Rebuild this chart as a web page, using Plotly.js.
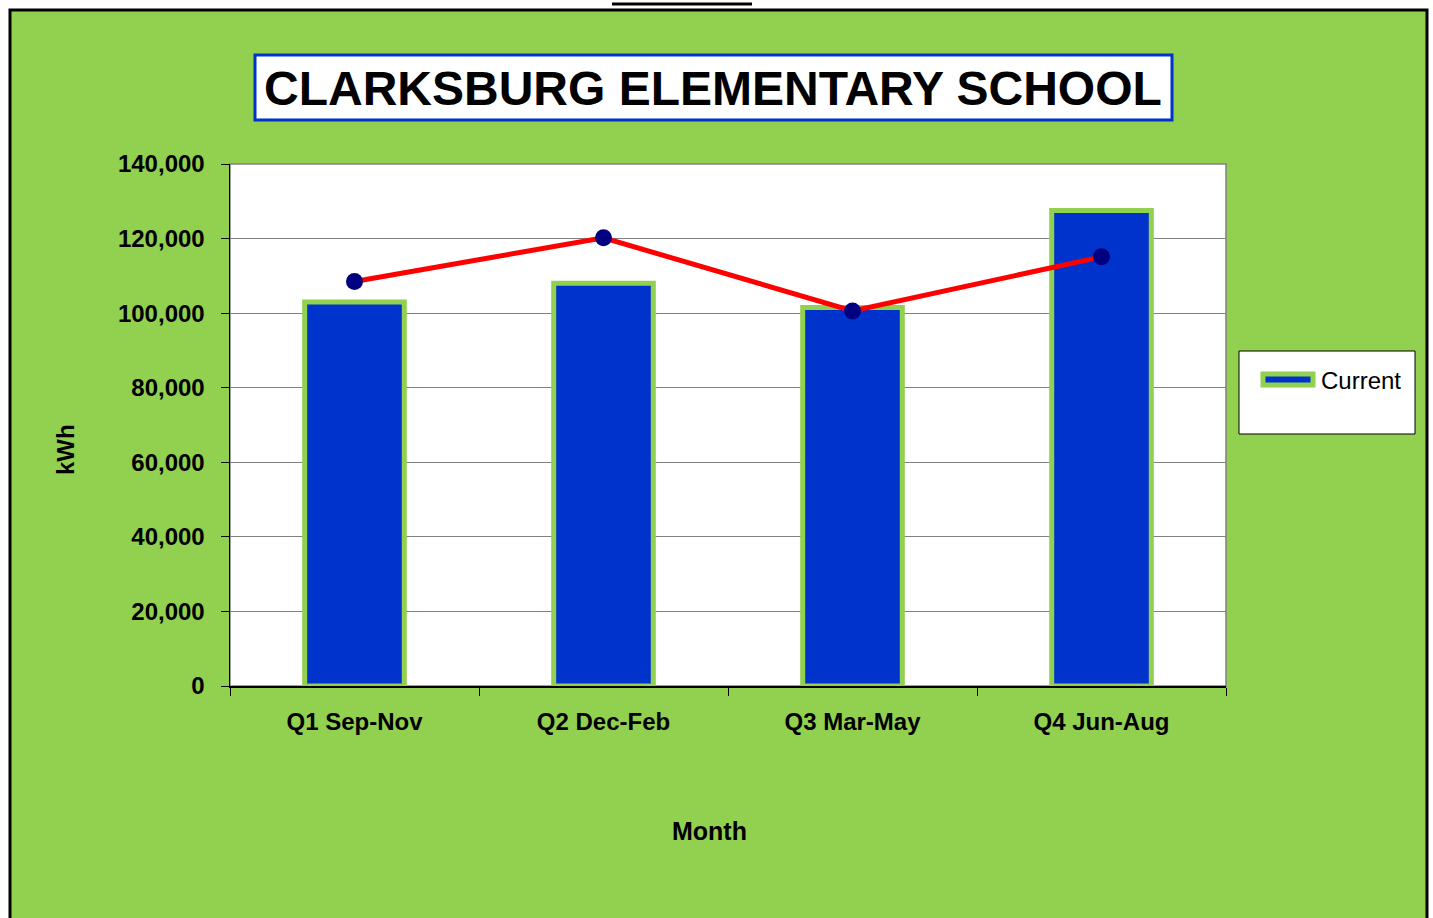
<!DOCTYPE html>
<html>
<head>
<meta charset="utf-8">
<script src="https://cdn.plot.ly/plotly-3.0.1.min.js"></script>
<style>
html,body{margin:0;padding:0;background:#ffffff;}
#chart{width:1433px;height:918px;}
</style>
</head>
<body>
<div id="chart"></div>
<script>
// ---- data ----
const categories = ["Q1 Sep-Nov", "Q2 Dec-Feb", "Q3 Mar-May", "Q4 Jun-Aug"];
const currentKWh = [103000, 108000, 101500, 127500];
const previousKWh = [108500, 120200, 100600, 115100];
const chartTitle = "CLARKSBURG ELEMENTARY SCHOOL";
const yTitle = "kWh";
const xTitle = "Month";
const legendLabel = "Current";

// ---- styles ----
const GREEN = "#92D050";
const BLUE = "#0033CC";
const NAVY = "#000080";
const RED = "#FF0000";
const arial = "'Liberation Sans', Arial, sans-serif";

// plot area in pixels: x 230..1226, y 164..686
const PX0 = 230, PX1 = 1226, PY0 = 164, PY1 = 686;
const px = v => (v - PX0) / (PX1 - PX0);
const py = v => (PY1 - v) / (PY1 - PY0);

const traces = [
  {
    type: "bar",
    x: categories,
    y: currentKWh,
    name: legendLabel,
    marker: {color: BLUE, line: {color: GREEN, width: 5}},
    showlegend: false,
    hoverinfo: "skip"
  },
  {
    type: "scatter",
    mode: "lines+markers",
    x: categories,
    y: previousKWh,
    name: "Previous",
    line: {color: RED, width: 5},
    marker: {color: NAVY, size: 17},
    showlegend: false,
    hoverinfo: "skip"
  }
];

const layout = {
  width: 1433,
  height: 918,
  margin: {l: PX0, r: 1433 - PX1, t: PY0, b: 918 - PY1, pad: 0},
  paper_bgcolor: "#ffffff",
  plot_bgcolor: "#ffffff",
  bargap: 0.6,
  showlegend: false,
  xaxis: {
    type: "category",
    showgrid: false,
    showline: true,
    linecolor: "#000000",
    linewidth: 1.5,
    ticks: "outside",
    tickson: "boundaries",
    ticklen: 8,
    tickcolor: "#000000",
    ticklabelstandoff: 14,
    tickfont: {family: arial, size: 24, color: "#000000", weight: "bold"},
    fixedrange: true
  },
  yaxis: {
    range: [0, 140000],
    dtick: 20000,
    tickformat: ",d",
    showgrid: true,
    gridcolor: "#808080",
    gridwidth: 1,
    zeroline: false,
    showline: true,
    linecolor: "#000000",
    linewidth: 1.5,
    ticks: "outside",
    ticklen: 8,
    tickcolor: "#000000",
    ticklabelstandoff: 11,
    tickfont: {family: arial, size: 24, color: "#000000", weight: "bold"},
    fixedrange: true
  },
  shapes: [
    // green chart area with black frame
    {type: "rect", xref: "paper", yref: "paper", layer: "below",
     x0: px(10), x1: px(1427), y0: py(940), y1: py(10),
     fillcolor: GREEN, line: {color: "#000000", width: 3}},
    // white plot area
    {type: "rect", xref: "paper", yref: "paper", layer: "below",
     x0: 0, x1: 1, y0: 0, y1: 1,
     fillcolor: "#ffffff", line: {color: "#808080", width: 1.5}},
    // small black line at top
    {type: "line", xref: "paper", yref: "paper", layer: "below",
     x0: px(612), x1: px(752), y0: py(4), y1: py(4),
     line: {color: "#000000", width: 3}},
    // title box
    {type: "rect", xref: "paper", yref: "paper", layer: "below",
     x0: px(255), x1: px(1172), y0: py(120), y1: py(55),
     fillcolor: "#ffffff", line: {color: BLUE, width: 3}},
    // legend box
    {type: "rect", xref: "paper", yref: "paper", layer: "below",
     x0: px(1239), x1: px(1415), y0: py(434), y1: py(351),
     fillcolor: "#ffffff", line: {color: "#000000", width: 1}},
    // legend symbol
    {type: "rect", xref: "paper", yref: "paper", layer: "below",
     x0: px(1263), x1: px(1313), y0: py(385), y1: py(374),
     fillcolor: BLUE, line: {color: GREEN, width: 5}}
  ],
  annotations: [
    {text: chartTitle, xref: "paper", yref: "paper", x: px(713), y: py(88),
     xanchor: "center", yanchor: "middle", showarrow: false,
     font: {family: arial, size: 48, color: "#000000", weight: "bold"}},
    {text: legendLabel, xref: "paper", yref: "paper", x: px(1319), y: py(380),
     xanchor: "left", yanchor: "middle", showarrow: false,
     font: {family: arial, size: 24, color: "#000000"}},
    {text: yTitle, xref: "paper", yref: "paper", x: px(65), y: py(450),
     xanchor: "center", yanchor: "middle", showarrow: false, textangle: -90,
     font: {family: arial, size: 24, color: "#000000", weight: "bold"}},
    {text: xTitle, xref: "paper", yref: "paper", x: px(709), y: py(831),
     xanchor: "center", yanchor: "middle", showarrow: false,
     font: {family: arial, size: 25, color: "#000000", weight: "bold"}}
  ]
};

Plotly.newPlot("chart", traces, layout, {staticPlot: true, displayModeBar: false});
</script>
</body>
</html>
